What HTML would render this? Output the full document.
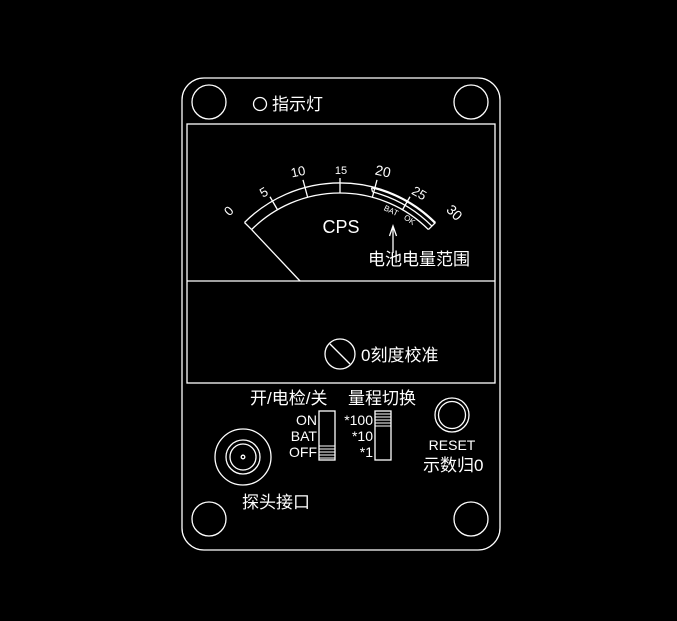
<!DOCTYPE html>
<html><head><meta charset="utf-8"><style>
html,body{margin:0;padding:0;background:#000;width:677px;height:621px;overflow:hidden}
svg{display:block}
text{fill:#fff;font-family:"Liberation Sans","Noto Sans CJK SC",sans-serif}
</style></head><body>
<svg width="677" height="621" viewBox="0 0 677 621" xmlns="http://www.w3.org/2000/svg" fill="none" stroke="#fff" stroke-width="1.3">
<rect x="182" y="78" width="318" height="472" rx="22"/>
<circle cx="209" cy="102" r="17"/>
<circle cx="471" cy="102" r="17"/>
<circle cx="209" cy="519" r="17"/>
<circle cx="471" cy="519" r="17"/>
<circle cx="260" cy="104" r="6.5"/>
<text x="272" y="110" font-size="17" stroke="none">指示灯</text>
<rect x="187" y="124" width="308" height="259"/>
<line x1="187" y1="281" x2="495" y2="281"/>
<path d="M244.5,222.5 A135,135 0 0 1 435.5,222.5"/>
<path d="M251.6,229.6 A125,125 0 0 1 428.4,229.6"/>
<line x1="244.5" y1="222.5" x2="251.6" y2="229.6"/>
<line x1="435.5" y1="222.5" x2="428.4" y2="229.6"/>
<line x1="251.6" y1="229.6" x2="300" y2="281"/>
<g>
<line x1="340" y1="193" x2="340" y2="178" transform="rotate(-30 340 318)"/>
<line x1="340" y1="193" x2="340" y2="175" transform="rotate(-15 340 318)"/>
<line x1="340" y1="193" x2="340" y2="178"/>
<line x1="340" y1="193" x2="340" y2="175" transform="rotate(15 340 318)"/>
<line x1="340" y1="193" x2="340" y2="178" transform="rotate(30 340 318)"/>
</g>
<path d="M371.5,187.7 A134,134 0 0 1 434.8,223.2" />
<path d="M372.5,191.9 A130,130 0 0 1 431.9,226.1" />
<line x1="371.5" y1="187.7" x2="372.5" y2="191.9"/>
<g stroke="none" font-size="13">
<text x="232" y="214" transform="rotate(-45 232 214)" text-anchor="middle">0</text>
<text x="266" y="196" transform="rotate(-30 266 196)" text-anchor="middle">5</text>
<text x="299" y="176" transform="rotate(-12 299 176)" text-anchor="middle">10</text>
<text x="341" y="174" text-anchor="middle" font-size="11">15</text>
<text x="382" y="176" transform="rotate(12 382 176)" text-anchor="middle" font-size="14">20</text>
<text x="417" y="197" transform="rotate(30 417 197)" text-anchor="middle">25</text>
<text x="451" y="216" transform="rotate(45 451 216)" text-anchor="middle" font-size="14">30</text>
<text x="390" y="213" transform="rotate(25 390 213)" text-anchor="middle" font-size="8">BAT</text>
<text x="408" y="222" transform="rotate(35 408 222)" text-anchor="middle" font-size="8">OK</text>
<text x="341" y="233" text-anchor="middle" font-size="18">CPS</text>
<text x="368" y="265" font-size="17">电池电量范围</text>
</g>
<line x1="393" y1="253" x2="393" y2="228"/>
<path d="M389.5,236 L393,226 L396.5,236" />
<circle cx="340" cy="354" r="15"/>
<line x1="330" y1="344" x2="350" y2="364"/>
<text x="361" y="361" font-size="17" stroke="none">0刻度校准</text>
<text x="250" y="404" font-size="17" stroke="none">开/电检/关</text>
<text x="348" y="404" font-size="17" stroke="none">量程切换</text>
<rect x="319" y="411" width="16" height="49"/>
<g stroke-width="1">
<line x1="319" y1="446" x2="335" y2="446"/><line x1="319" y1="449" x2="335" y2="449"/><line x1="319" y1="452" x2="335" y2="452"/><line x1="319" y1="455" x2="335" y2="455"/><line x1="319" y1="458" x2="335" y2="458"/>
</g>
<g font-size="14" stroke="none" text-anchor="end">
<text x="317" y="425">ON</text><text x="317" y="441">BAT</text><text x="317" y="457">OFF</text>
<text x="373" y="425">*100</text><text x="373" y="441">*10</text><text x="373" y="457">*1</text>
</g>
<rect x="375" y="411" width="16" height="49"/>
<g stroke-width="1">
<line x1="375" y1="414" x2="391" y2="414"/><line x1="375" y1="417" x2="391" y2="417"/><line x1="375" y1="420" x2="391" y2="420"/><line x1="375" y1="423" x2="391" y2="423"/><line x1="375" y1="426" x2="391" y2="426"/>
</g>
<circle cx="452" cy="415" r="17"/>
<circle cx="452" cy="415" r="13.5"/>
<text x="452" y="450" font-size="14" stroke="none" text-anchor="middle">RESET</text>
<text x="423" y="471" font-size="17" stroke="none">示数归0</text>
<circle cx="243" cy="457" r="28"/>
<circle cx="243" cy="457" r="17"/>
<circle cx="243" cy="457" r="13"/>
<circle cx="243" cy="457" r="1.8"/>
<text x="242" y="508" font-size="17" stroke="none">探头接口</text>
</svg>
</body></html>
